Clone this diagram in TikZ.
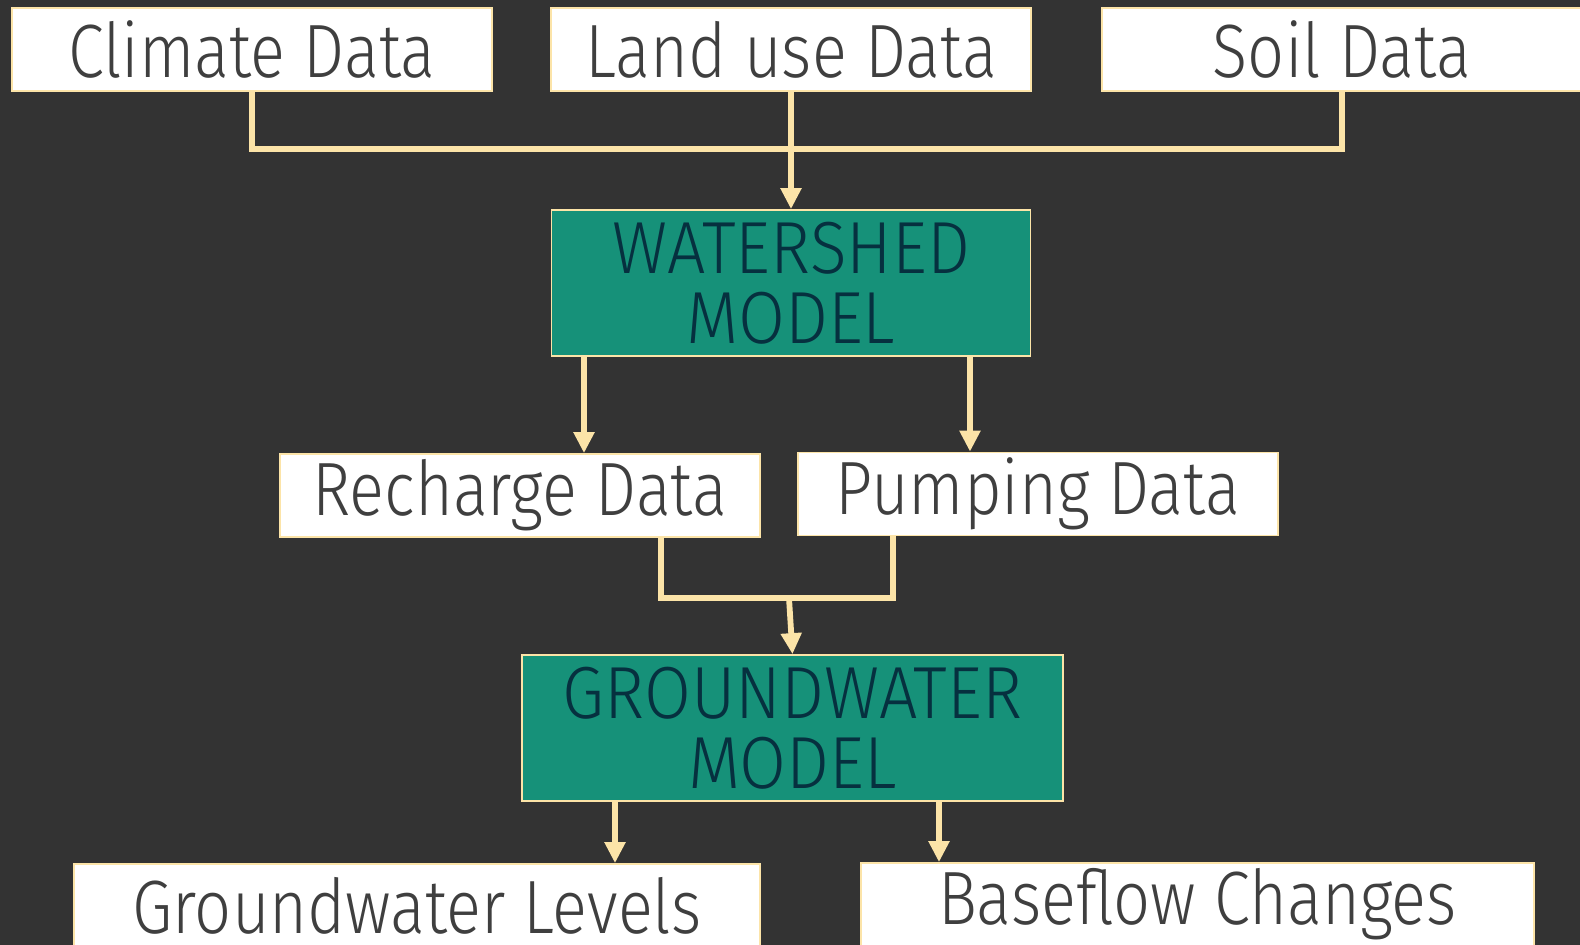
\documentclass[tikz,border=0pt]{standalone}
\usepackage{fontspec}
\setmainfont{Fira Sans}[UprightFont=* Light,FakeStretch=0.86]
\newfontfamily\modelfont{Fira Sans}[UprightFont=* Light,FakeStretch=0.92]
\usetikzlibrary{arrows.meta}
\definecolor{bgc}{HTML}{333333}
\definecolor{cream}{HTML}{FCE4A8}
\definecolor{modelgreen}{HTML}{169179}
\definecolor{inkgray}{HTML}{3F3F3F}
\definecolor{ink}{HTML}{06303F}
\tikzset{
  databox/.style={draw=cream,line width=1pt,fill=white,text=inkgray,minimum width=9.6cm,minimum height=1.66cm,inner sep=0pt,font=\fontsize{43}{48}\selectfont},
  modelbox/.style={draw=cream,line width=1pt,fill=modelgreen,text=ink,minimum height=2.92cm,align=center,inner sep=0pt,font=\modelfont\fontsize{42}{40}\selectfont},
  link/.style={draw=cream,line width=3.3pt},
  flow/.style={link,-{Triangle[width=0.4cm,length=0.42cm]}}
}
\begin{document}
\begin{tikzpicture}[x=0.02cm,y=-0.02cm]
            \fill[bgc] (0,0) rectangle (1580,945);
            \useasboundingbox (0,0) rectangle (1580,945);
            \node[databox] (clim) at (252,49.5) {Climate Data};
            \node[databox] (land) at (791,49.5) {Land use Data};
            \node[databox] (soil) at (1342,49.5) {Soil Data};
            \node[modelbox,minimum width=9.58cm] (wshed) at (791,283) {WATERSHED\\MODEL};
            \node[databox] (rech) at (520,495.5) {Recharge Data};
            \node[databox] (pump) at (1038,494) {Pumping Data};
            \node[modelbox,minimum width=10.82cm] (gw) at (792.5,728) {GROUNDWATER\\MODEL};
            \node[databox,minimum width=13.72cm] (levels) at (417,905.5) {Groundwater Levels};
            \node[databox,minimum width=13.46cm] (base) at (1197.5,904.5) {Baseflow Changes};
            \coordinate (top) at (791,149);
            \coordinate (wl) at (584,0);
            \coordinate (wr) at (970,0);
            \coordinate (rj) at (661,598);
            \coordinate (pj) at (893,598);
            \coordinate (mid) at (789,598);
            \coordinate (gl) at (615,0);
            \coordinate (gr) at (939,0);
            \draw[link] (clim.south) |- (top) -| (soil.south);
            \draw[flow] (land.south) -- (wshed.north);
            \draw[flow] (wshed.south -| wl) -- (rech.north -| wl);
            \draw[flow] (wshed.south -| wr) -- (pump.north -| wr);
            \draw[link] (rech.south -| rj) |- (pj) -- (pump.south -| pj);
            \draw[flow] (mid) -- (gw.north);
            \draw[flow] (gw.south -| gl) -- (levels.north -| gl);
            \draw[flow] (gw.south -| gr) -- (base.north -| gr);
\end{tikzpicture}
\end{document}
